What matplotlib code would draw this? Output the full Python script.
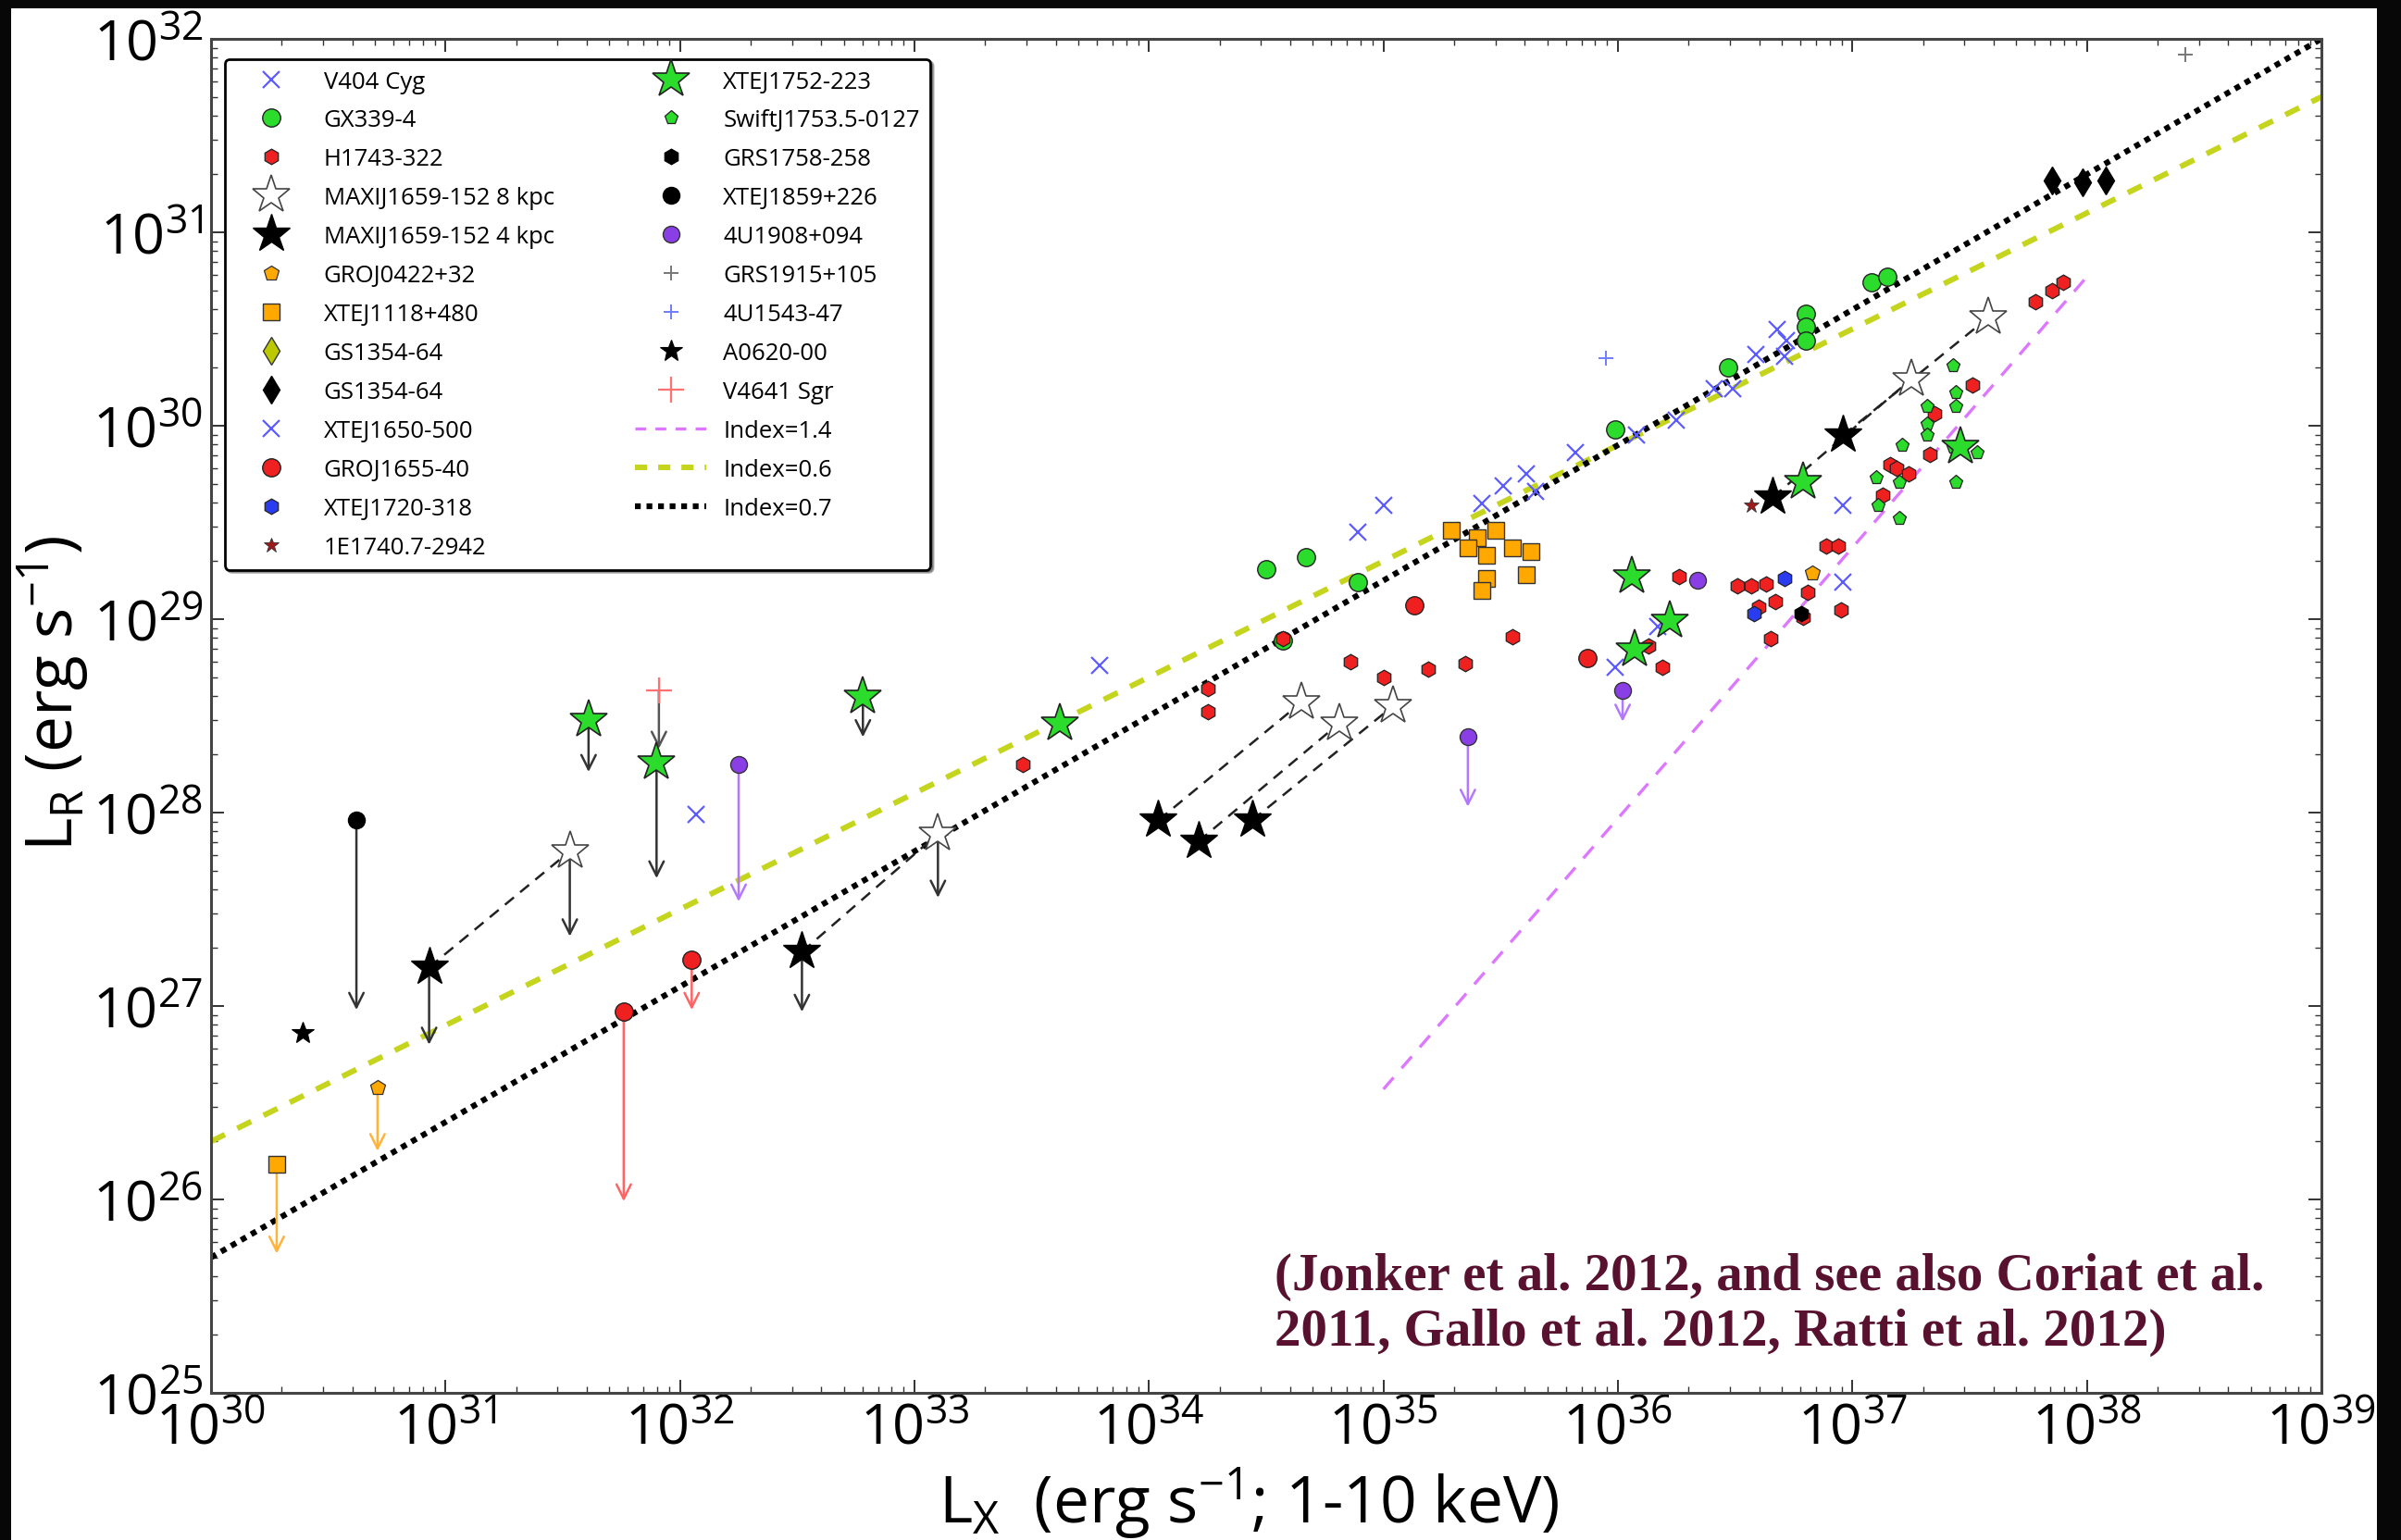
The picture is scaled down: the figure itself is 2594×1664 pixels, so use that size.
"""
Radio / X-ray luminosity plane for black-hole X-ray binaries
(L_R vs L_X, log-log), redrawn from the Jonker et al. 2012 figure.
Values are log10 luminosities read off the picture.
"""

import matplotlib

matplotlib.use("Agg")
import matplotlib.pyplot as plt
import numpy as np
from matplotlib.lines import Line2D
from matplotlib.patches import Rectangle
from matplotlib.ticker import FixedLocator, LogLocator, NullFormatter

plt.rcParams["font.family"] = ["Open Sans", "DejaVu Sans"]
plt.rcParams["mathtext.fontset"] = "custom"
plt.rcParams["mathtext.rm"] = "Open Sans"
plt.rcParams["mathtext.it"] = "Open Sans:italic"
plt.rcParams["mathtext.bf"] = "Open Sans:bold"

# ---- data: log10(L_X), log10(L_R) --------------------------------------
v404_lx = [34.89, 35.00, 35.42, 35.51, 35.61, 35.65, 35.82, 36.08, 36.25,
           36.41, 36.49, 36.59, 36.68, 36.71, 36.72]
v404_lr = [29.45, 29.59, 29.60, 29.69, 29.75, 29.66, 29.86, 29.95, 30.03,
           30.19, 30.19, 30.37, 30.50, 30.36, 30.44]

j1650_lx = [32.07, 33.79, 35.99, 36.17, 36.96, 36.96]
j1650_lr = [27.99, 28.76, 28.75, 28.96, 29.59, 29.19]

gx339_lx = [34.50, 34.67, 34.89, 34.57, 35.99, 36.47, 36.80, 36.80, 36.80,
            37.08, 37.15]
gx339_lr = [29.26, 29.32, 29.19, 28.89, 29.98, 30.30, 30.58, 30.51, 30.44,
            30.74, 30.77]

h1743_lx = [33.46, 34.25, 34.25, 34.57, 34.86, 35.00, 35.19, 35.35, 35.55,
            36.13, 36.19, 36.26, 36.51, 36.57, 36.63, 36.81, 36.67, 36.60,
            36.79, 36.95, 36.65, 36.89, 36.94, 37.13, 37.16, 37.19, 37.24,
            37.33, 37.35, 37.51, 37.78, 37.85, 37.90]
h1743_lr = [28.25, 28.64, 28.52, 28.90, 28.78, 28.70, 28.74, 28.77, 28.91,
            28.86, 28.75, 29.22, 29.17, 29.17, 29.18, 29.14, 29.09, 29.06,
            29.01, 29.05, 28.90, 29.38, 29.38, 29.64, 29.80, 29.78, 29.75,
            29.85, 30.06, 30.21, 30.64, 30.70, 30.74]

j1655_lx = [35.13, 35.87, 32.05, 31.76]
j1655_lr = [29.07, 28.80, 27.24, 26.97]
j1655_ul = [None, None, 26.98, 25.99]

# MAXI J1659-152 at 4 kpc and 8 kpc (same epochs, joined by dashed lines)
maxi4_lx = [30.93, 32.52, 34.04, 34.21, 34.44, 36.66, 36.96]
maxi4_lr = [27.20, 27.28, 27.96, 27.85, 27.96, 29.63, 29.95]
maxi4_ul = [26.80, 26.97, None, None, None, None, None]
maxi8_lx = [31.53, 33.10, 34.65, 34.81, 35.04, 37.25, 37.58]
maxi8_lr = [27.80, 27.89, 28.57, 28.46, 28.55, 30.24, 30.56]
maxi8_ul = [27.36, 27.56, None, None, None, None, None]

j1752_lx = [31.61, 31.90, 32.78, 33.62, 36.06, 36.22, 36.07, 36.79, 37.46]
j1752_lr = [28.48, 28.26, 28.60, 28.46, 29.22, 28.99, 28.84, 29.71, 29.89]
j1752_ul = [28.21, 27.66, 28.39, None, None, None, None, None, None]

swift_lx = [37.43, 37.44, 37.44, 37.32, 37.32, 37.32, 37.21, 37.10, 37.20,
            37.11, 37.20, 37.44, 37.43, 37.53]
swift_lr = [30.31, 30.17, 30.10, 30.10, 30.01, 29.95, 29.90, 29.73, 29.71,
            29.59, 29.52, 29.71, 29.89, 29.86]

j1118_lx = [30.28, 35.29, 35.40, 35.48, 35.36, 35.44, 35.55, 35.63, 35.44,
            35.61, 35.42]
j1118_lr = [26.18, 29.46, 29.42, 29.46, 29.37, 29.33, 29.37, 29.35, 29.21,
            29.23, 29.15]
j1118_ul = [25.72] + [None] * 10

j0422_lx = [30.71, 36.83]
j0422_lr = [26.58, 29.24]
j0422_ul = [26.25, None]

gs1354_lx = [37.85, 37.98, 38.08]
gs1354_lr = [31.27, 31.26, 31.27]

j1720_lx = [36.71, 36.58]
j1720_lr = [29.21, 29.03]

grs1758_lx = [36.78]
grs1758_lr = [29.03]

e1740_lx = [36.57]
e1740_lr = [29.59]

j1859_lx = [30.62]
j1859_lr = [27.96]
j1859_ul = [26.98]

u1908_lx = [32.25, 35.36, 36.02, 36.34]
u1908_lr = [28.25, 28.39, 28.63, 29.20]
u1908_ul = [27.54, 28.03, 28.47, None]

grs1915_lx = [38.42]
grs1915_lr = [31.92]

u1543_lx = [35.95]
u1543_lr = [30.35]

a0620_lx = [30.39]
a0620_lr = [26.86]

v4641_lx = [31.91]
v4641_lr = [28.63]
v4641_ul = [28.33]

# reference correlations: (slope, log L_X pivot, log L_R at pivot, x range)
idx07 = (0.7, 30.0, 25.70, (30.0, 39.0))
idx06 = (0.6, 30.0, 26.30, (30.0, 39.0))
idx14 = (1.4, 35.0, 26.57, (35.0, 38.0))

# decades carrying a labelled major tick
x_decades = list(range(30, 40))
y_decades = list(range(25, 33))

# marker styles: label -> (marker, size, face, edge, edge width)
BLUE_X = "#5b5bff"
GREEN = "#2cdc2c"
RED = "#ee2020"
ORANGE = "#ffa800"
PURPLE = "#8a3fe6"

STYLE = {
    "V404 Cyg": ("x", 13, BLUE_X, BLUE_X, 1.6),
    "GX339-4": ("o", 14, GREEN, "#222222", 1.0),
    "H1743-322": ("h", 12, RED, "#222222", 0.9),
    "MAXIJ1659-152 8 kpc": ("*", 31, "white", "#444444", 1.2),
    "MAXIJ1659-152 4 kpc": ("*", 31, "black", "black", 1.0),
    "GROJ0422+32": ("p", 12, ORANGE, "#333333", 0.9),
    "XTEJ1118+480": ("s", 13, ORANGE, "#333333", 1.0),
    "GS1354-64 ": ("d", 15, "#bcc800", "#333333", 1.0),
    "GS1354-64": ("d", 15, "black", "black", 1.0),
    "XTEJ1650-500": ("x", 13, BLUE_X, BLUE_X, 1.6),
    "GROJ1655-40": ("o", 14, RED, "#222222", 1.0),
    "XTEJ1720-318": ("h", 12, "#2a3cf0", "#222222", 0.9),
    "1E1740.7-2942": ("*", 12, "#a01818", "#333333", 0.6),
    "XTEJ1752-223": ("*", 31, GREEN, "#222222", 1.2),
    "SwiftJ1753.5-0127": ("p", 11, GREEN, "#222222", 0.9),
    "GRS1758-258": ("h", 12, "black", "black", 0.9),
    "XTEJ1859+226": ("o", 13, "black", "black", 1.0),
    "4U1908+094": ("o", 13, PURPLE, "#333333", 1.0),
    "GRS1915+105": ("+", 12, "#777777", "#777777", 1.4),
    "4U1543-47": ("+", 12, "#6f7dff", "#6f7dff", 1.4),
    "A0620-00": ("*", 18, "black", "black", 0.8),
    "V4641 Sgr": ("+", 20, "#ff7070", "#ff7070", 1.6),
}

ARROW_COLOR = {
    "MAXIJ1659-152 8 kpc": "#333333",
    "MAXIJ1659-152 4 kpc": "#333333",
    "XTEJ1752-223": "#333333",
    "XTEJ1859+226": "#333333",
    "GROJ1655-40": "#ff6464",
    "XTEJ1118+480": "#ffb33a",
    "GROJ0422+32": "#ffb33a",
    "4U1908+094": "#b378ff",
    "V4641 Sgr": "#555555",
}

SERIES = [
    ("V404 Cyg", v404_lx, v404_lr, None),
    ("XTEJ1650-500", j1650_lx, j1650_lr, None),
    ("GX339-4", gx339_lx, gx339_lr, None),
    ("H1743-322", h1743_lx, h1743_lr, None),
    ("GROJ1655-40", j1655_lx, j1655_lr, j1655_ul),
    ("XTEJ1118+480", j1118_lx, j1118_lr, j1118_ul),
    ("GROJ0422+32", j0422_lx, j0422_lr, j0422_ul),
    ("SwiftJ1753.5-0127", swift_lx, swift_lr, None),
    ("XTEJ1720-318", j1720_lx, j1720_lr, None),
    ("GRS1758-258", grs1758_lx, grs1758_lr, None),
    ("1E1740.7-2942", e1740_lx, e1740_lr, None),
    ("GS1354-64", gs1354_lx, gs1354_lr, None),
    ("XTEJ1859+226", j1859_lx, j1859_lr, j1859_ul),
    ("4U1908+094", u1908_lx, u1908_lr, u1908_ul),
    ("GRS1915+105", grs1915_lx, grs1915_lr, None),
    ("4U1543-47", u1543_lx, u1543_lr, None),
    ("A0620-00", a0620_lx, a0620_lr, None),
    ("V4641 Sgr", v4641_lx, v4641_lr, v4641_ul),
    ("MAXIJ1659-152 4 kpc", maxi4_lx, maxi4_lr, maxi4_ul),
    ("MAXIJ1659-152 8 kpc", maxi8_lx, maxi8_lr, maxi8_ul),
    ("XTEJ1752-223", j1752_lx, j1752_lr, j1752_ul),
]

LEGEND_ORDER = [
    "V404 Cyg", "GX339-4", "H1743-322", "MAXIJ1659-152 8 kpc",
    "MAXIJ1659-152 4 kpc", "GROJ0422+32", "XTEJ1118+480", "GS1354-64 ",
    "GS1354-64", "XTEJ1650-500", "GROJ1655-40", "XTEJ1720-318",
    "1E1740.7-2942", "XTEJ1752-223", "SwiftJ1753.5-0127", "GRS1758-258",
    "XTEJ1859+226", "4U1908+094", "GRS1915+105", "4U1543-47", "A0620-00",
    "V4641 Sgr",
]

C_07 = "black"
C_06 = "#c5d41c"
C_14 = "#dd77ff"


def _marker_kw(name):
    m, ms, fc, ec, mew = STYLE[name]
    return dict(marker=m, markersize=ms, markerfacecolor=fc,
                markeredgecolor=ec, markeredgewidth=mew, linestyle="none")


def _line(ax, spec, **kw):
    slope, x0, y0, (xa, xb) = spec
    lx = np.array([xa, xb])
    lr = y0 + slope * (lx - x0)
    ax.plot(10 ** lx, 10 ** lr, **kw)


fig = plt.figure(figsize=(25.94, 16.65), dpi=100, facecolor="#070707")
# white slide panel behind the plot
fig.add_artist(Rectangle((12 / 2594, 0), 2556 / 2594, 1655 / 1665,
                         transform=fig.transFigure, facecolor="white",
                         edgecolor="none", zorder=0))

ax = fig.add_axes([228 / 2594, 1 - 1506 / 1665, 2280 / 2594, 1463 / 1665])
ax.set_xscale("log")
ax.set_yscale("log")
ax.set_xlim(1e30, 1e39)
ax.set_ylim(1e25, 1e32)

_line(ax, idx14, color=C_14, lw=2.4, ls=(0, (5, 4)), zorder=2)
_line(ax, idx06, color=C_06, lw=4.3, ls=(0, (2.8, 2.5)), zorder=2)
_line(ax, idx07, color=C_07, lw=4.5, ls=(0, (1, 1)), zorder=2)

# dashed segments joining the 4 kpc and 8 kpc MAXI points
for a, b, c, d in zip(maxi4_lx, maxi4_lr, maxi8_lx, maxi8_lr):
    ax.plot([10 ** a, 10 ** c], [10 ** b, 10 ** d], color="#222222",
            lw=1.8, ls=(0, (5, 3.5)), zorder=2)

for name, lx, lr, ul in SERIES:
    x = 10 ** np.array(lx)
    y = 10 ** np.array(lr)
    if ul is not None:
        col = ARROW_COLOR.get(name, "#333333")
        for xi, yi, u in zip(x, y, ul):
            if u is None:
                continue
            ax.annotate("", xy=(xi, 10 ** u), xytext=(xi, yi),
                        arrowprops=dict(arrowstyle="->", color=col, lw=1.8,
                                        shrinkA=0, shrinkB=0,
                                        mutation_scale=28),
                        zorder=3)
    ax.plot(x, y, zorder=4, **_marker_kw(name))

# ticks / axes cosmetics (only in-range decades get a label)
ax.xaxis.set_major_locator(FixedLocator(10.0 ** np.array(x_decades)))
ax.yaxis.set_major_locator(FixedLocator(10.0 ** np.array(y_decades)))
for axis in (ax.xaxis, ax.yaxis):
    axis.set_minor_locator(LogLocator(base=10, subs=np.arange(2, 10),
                                      numticks=200))
    axis.set_minor_formatter(NullFormatter())
ax.tick_params(which="both", direction="in", top=True, right=True,
               colors="#333333", labelcolor="black")
ax.tick_params(which="major", length=10, width=1.4, labelsize=44, pad=6)
ax.tick_params(which="minor", length=5, width=1.0)
for sp in ax.spines.values():
    sp.set_color("#444444")
    sp.set_linewidth(2.2)

ax.set_xlabel(r"L$_{\rm X}$  (erg s$^{-1}$; 1-10 keV)", fontsize=50)
ax.set_ylabel(r"L$_{\rm R}$ (erg s$^{-1}$)", fontsize=50)
ax.xaxis.set_label_coords(0.492, -0.053)
ax.yaxis.set_label_coords(-0.057, 0.517)

# legend built from proxies so the column order matches the original
handles = [Line2D([], [], label=n.strip(), **_marker_kw(n))
           for n in LEGEND_ORDER]
handles += [
    Line2D([], [], color=C_14, lw=2.4, ls=(0, (3.5, 3)), label="Index=1.4"),
    Line2D([], [], color=C_06, lw=4.3, ls=(0, (2.2, 2)), label="Index=0.6"),
    Line2D([], [], color=C_07, lw=4.5, ls=(0, (1, 1)), label="Index=0.7"),
]
leg = ax.legend(handles=handles, loc="upper left",
                bbox_to_anchor=(0.0066, 0.985), ncol=2, fontsize=18.5,
                numpoints=1, frameon=True, fancybox=True, shadow=True,
                borderaxespad=0, handlelength=3.0, handletextpad=0.7,
                labelspacing=0.66, columnspacing=3.4, borderpad=0.45)
leg.get_frame().set_edgecolor("black")
leg.get_frame().set_linewidth(2.0)
leg.set_zorder(6)

ax.text(0.504, 0.104,
        "(Jonker et al. 2012, and see also Coriat et al.\n"
        "2011, Gallo et al. 2012, Ratti et al. 2012)",
        transform=ax.transAxes, ha="left", va="top", fontsize=41,
        family=["Liberation Serif", "DejaVu Serif"], fontweight="bold",
        color="#581230", linespacing=1.2, zorder=5)

fig.savefig("out.png", dpi=100, facecolor=fig.get_facecolor())
